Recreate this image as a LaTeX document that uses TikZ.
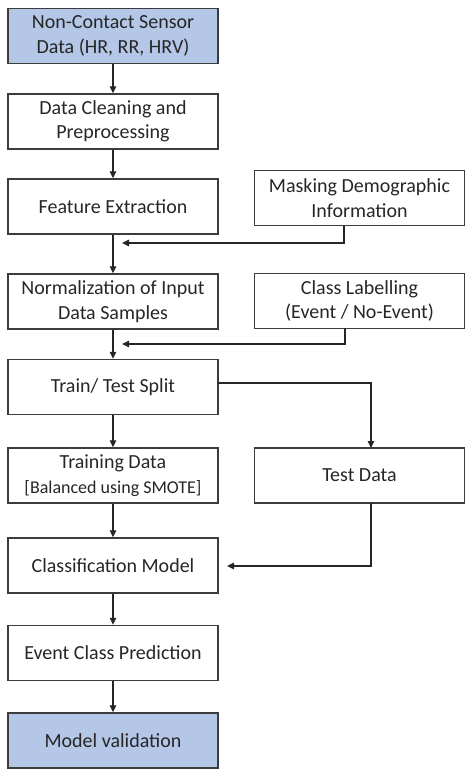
\documentclass[tikz,border=0pt]{standalone}
\usepackage{fontspec}
\setmainfont{Carlito}
\usetikzlibrary{arrows.meta}
\definecolor{stepblue}{RGB}{180,199,231}
\definecolor{edgegray}{RGB}{60,60,60}
\begin{document}
\begin{tikzpicture}[x=1pt,y=-1pt,
    box/.style={draw=edgegray, line width=1.4pt, minimum width=210pt, minimum height=55pt,
        inner sep=2pt, align=center, text=black!85, font=\fontsize{20}{24.5}\selectfont},
    endbox/.style={box, fill=stepblue},
    arr/.style={draw=black!85, line width=1.3pt, -{Triangle[length=7pt,width=6.5pt]}}]
    \useasboundingbox (0,0) rectangle (474,776);
    % left column
    \node[endbox] (src) at (113,36) {Non-Contact Sensor\\Data (HR, RR, HRV)};
    \node[box] (clean) at (113,121.5) {Data Cleaning and\\Preprocessing};
    \node[box] (feat) at (113,206.5) {Feature Extraction};
    \node[box] (norm) at (113,301.5) {Normalization of Input\\Data Samples};
    \node[box] (split) at (113,387) {Train/ Test Split};
    \node[box] (train) at (113,475.5) {Training Data\\{\fontsize{18}{22}\selectfont[Balanced using SMOTE]}};
    \node[box] (model) at (113,565.5) {Classification Model};
    \node[box] (pred) at (113,653) {Event Class Prediction};
    \node[endbox] (valid) at (113,740.5) {Model validation};
    % right column
    \node[box] (mask) at (359.5,198) {Masking Demographic\\Information};
    \node[box] (label) at (359.5,301) {Class Labelling\\(Event / No-Event)};
    \node[box] (test) at (359.5,475.5) {Test Data};
    % turning points
    \coordinate (m1) at (344,226);
    \coordinate (j1) at (122,243);
    \coordinate (l1) at (345,328);
    \coordinate (j2) at (122,344);
    \coordinate (s1) at (218,383);
    \coordinate (t1) at (371,448);
    \coordinate (t2) at (371,503);
    \coordinate (j3) at (227,566);
    % main flow
    \draw[arr] (src) -- (clean);
    \draw[arr] (clean) -- (feat);
    \draw[arr] (feat) -- (norm);
    \draw[arr] (norm) -- (split);
    \draw[arr] (split) -- (train);
    \draw[arr] (train) -- (model);
    \draw[arr] (model) -- (pred);
    \draw[arr] (pred) -- (valid);
    % side inputs
    \draw[arr] (m1) |- (j1);
    \draw[arr] (l1) |- (j2);
    \draw[arr] (s1) -| (t1);
    \draw[arr] (t2) |- (j3);
\end{tikzpicture}
\end{document}
